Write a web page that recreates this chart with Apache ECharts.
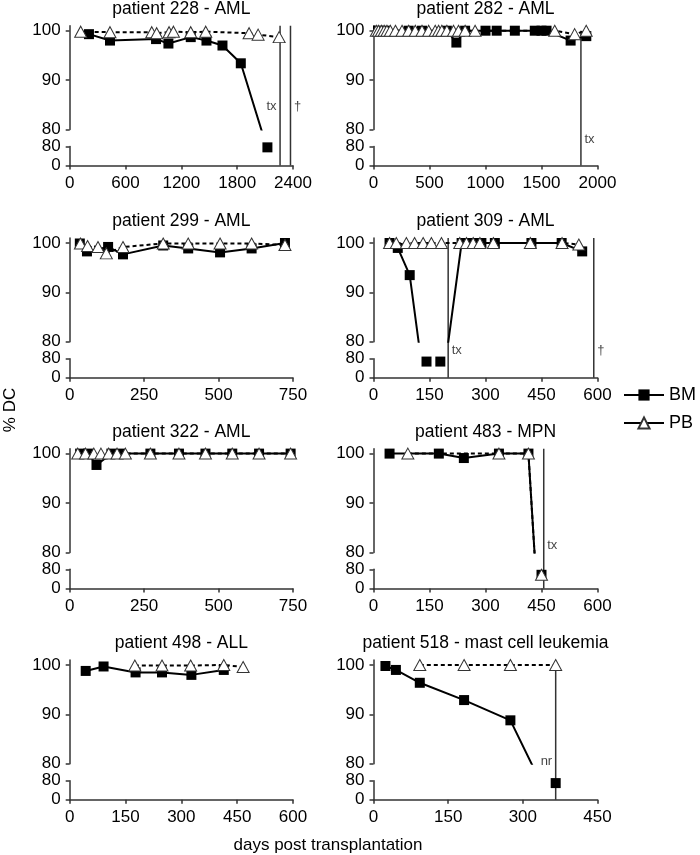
<!DOCTYPE html>
<html><head><meta charset="utf-8">
<script src="https://cdn.jsdelivr.net/npm/echarts@6/dist/echarts.min.js"></script>
<style>html,body{margin:0;padding:0;background:#fff}#c{width:700px;height:855px}</style>
</head><body><div id="c"></div>
<script>
// ---------------- DATA (days post transplantation, % donor chimerism) ----------------
const pt228_bm_days = [207, 433, 928, 1061, 1301, 1470, 1642, 1839, 2125];
const pt228_bm_pct  = [99.3, 98.0, 98.3, 97.4, 98.7, 98.0, 97.0, 93.4, 76];
const pt228_pb_days = [118, 433, 882, 935, 1068, 1115, 1301, 1462, 1928, 2025, 2251];
const pt228_pb_pct  = [99.8, 99.7, 99.7, 99.5, 99.7, 99.8, 99.7, 99.8, 99.5, 99.2, 98.7];
const pt228_event_days = [2261, 2373];
const pt228_event_text = ['tx', '†'];

const pt282_bm_days = [40, 110, 314, 433, 655, 740, 818, 1000, 1100, 1262, 1440, 1500, 1545, 1760, 1900];
const pt282_bm_pct  = [100, 100, 100, 100, 100, 97.6, 100, 100, 100, 100, 100, 100, 100, 98.0, 98.9];
const pt282_pb_days = [25, 45, 70, 95, 120, 150, 196, 255, 314, 373, 433, 492, 551, 581, 610, 655, 714, 759, 818, 907, 1618, 1796, 1899];
const pt282_pb_pct  = [100, 100, 100, 100, 100, 100, 100, 100, 100, 100, 100, 100, 100, 100, 100, 100, 100, 100, 100, 100, 100, 99.3, 100];
const pt282_event_days = [1852];
const pt282_event_text = ['tx'];

const pt299_bm_days = [34, 58, 129, 179, 314, 398, 505, 611, 723];
const pt299_bm_pct  = [99.9, 98.3, 99.2, 97.7, 99.5, 98.9, 98.1, 98.9, 100];
const pt299_pb_days = [36, 60, 95, 123, 179, 314, 398, 505, 611, 723];
const pt299_pb_pct  = [99.9, 99.4, 99.2, 97.9, 99.2, 99.9, 99.9, 99.9, 99.9, 99.6];
const pt299_event_days = [];
const pt299_event_text = [];

const pt309_bm_days = [43, 65, 97, 142, 179, 236, 253, 271, 289, 325, 423, 504, 559];
const pt309_bm_pct  = [100, 99.0, 93.5, 68, 68, 100, 100, 100, 100, 100, 100, 100, 98.3];
const pt309_pb_days = [43, 61, 88, 110, 133, 155, 182, 231, 249, 267, 285, 321, 420, 505, 550];
const pt309_pb_pct  = [100, 100, 100, 100, 100, 100, 100, 100, 100, 100, 100, 100, 100, 100, 99.7];
const pt309_event_days = [200, 590];
const pt309_event_text = ['tx', '†'];

const pt322_bm_days = [35, 62, 90, 140, 172, 271, 367, 456, 546, 636, 742];
const pt322_bm_pct  = [100, 100, 97.7, 100, 100, 100, 100, 100, 100, 100, 100];
const pt322_pb_days = [27, 53, 81, 105, 131, 159, 187, 271, 367, 456, 546, 636, 742];
const pt322_pb_pct  = [100, 100, 100, 100, 100, 100, 100, 100, 100, 100, 100, 100, 100];
const pt322_event_days = [];
const pt322_event_text = [];

const pt483_bm_days = [43, 175, 242, 336, 415, 450];
const pt483_bm_pct  = [100, 100, 99.1, 100, 100, 57];
const pt483_pb_days = [92, 336, 415, 450];
const pt483_pb_pct  = [100, 100, 100, 57];
const pt483_event_days = [456];
const pt483_event_text = ['tx'];

const pt498_bm_days = [43, 91, 177, 248, 327, 414];
const pt498_bm_pct  = [98.8, 99.7, 98.5, 98.5, 98.0, 99.0];
const pt498_pb_days = [175, 248, 325, 414, 466];
const pt498_pb_pct  = [99.9, 99.9, 99.9, 100, 99.6];
const pt498_event_days = [];
const pt498_event_text = [];

const pt518_bm_days = [24, 45, 93, 182, 275, 366];
const pt518_bm_pct  = [99.8, 99.0, 96.4, 92.9, 88.8, 70];
const pt518_pb_days = [93, 182, 275, 366];
const pt518_pb_pct  = [100, 100, 100, 100];
const pt518_event_days = [366];
const pt518_event_text = ['nr'];

const panelTitles = ['patient 228 - AML', 'patient 282 - AML', 'patient 299 - AML', 'patient 309 - AML',
                     'patient 322 - AML', 'patient 483 - MPN', 'patient 498 - ALL', 'patient 518 - mast cell leukemia'];
const xMaxes = [2400, 2000, 750, 600, 750, 600, 600, 450];
const xSteps = [600, 500, 250, 150, 250, 150, 150, 150];
const upperTicks = [80, 90, 100];
const lowerTicks = [0, 80];
const seriesNames = ['BM', 'PB'];

// ---------------- LAYOUT / STYLE ----------------
const FONT = "'Liberation Sans', Arial, Helvetica, sans-serif";
const PXU = 4.94;            // px per % in the upper (80-100) part
const UP_MAX = 101;
const GAP = 16.9, LOW_H = 19.1;
const COLS = [{left: 69.7, width: 223.3}, {left: 373.5, width: 224}];
const ROWS = [30.7, 243, 453.6, 665];   // pixel row of the 100 % tick
// event line/label placement: [side, label level (upper-scale units), line top]
const eventLayout = {
  0: [['left', 84.7, 101], ['right', 84.7, 101]],
  1: [['right', 77.9, 100]],
  3: [['right', 78.3, 101], ['right', 78.3, 101]],
  5: [['right', 81.4, 101]],
  7: [['left', 80.4, 100]]
};

const panels = [
  [pt228_bm_days, pt228_bm_pct, pt228_pb_days, pt228_pb_pct, pt228_event_days, pt228_event_text],
  [pt282_bm_days, pt282_bm_pct, pt282_pb_days, pt282_pb_pct, pt282_event_days, pt282_event_text],
  [pt299_bm_days, pt299_bm_pct, pt299_pb_days, pt299_pb_pct, pt299_event_days, pt299_event_text],
  [pt309_bm_days, pt309_bm_pct, pt309_pb_days, pt309_pb_pct, pt309_event_days, pt309_event_text],
  [pt322_bm_days, pt322_bm_pct, pt322_pb_days, pt322_pb_pct, pt322_event_days, pt322_event_text],
  [pt483_bm_days, pt483_bm_pct, pt483_pb_days, pt483_pb_pct, pt483_event_days, pt483_event_text],
  [pt498_bm_days, pt498_bm_pct, pt498_pb_days, pt498_pb_pct, pt498_event_days, pt498_event_text],
  [pt518_bm_days, pt518_bm_pct, pt518_pb_days, pt518_pb_pct, pt518_event_days, pt518_event_text]
];

const AX = {color: '#333', width: 1.5};
const LBL = {fontFamily: FONT, fontSize: 17, color: '#000', formatter: v => String(v)};
const BM_STYLE = {symbol: 'rect', symbolSize: 10, itemStyle: {color: '#000', opacity: 1}};
const PB_STYLE = {symbol: 'triangle', symbolSize: [12, 11], itemStyle: {color: '#fff', borderColor: '#333', borderWidth: 1, opacity: 1}};

const grid = [], xAxis = [], yAxis = [], series = [], graphic = [];

panels.forEach((p, i) => {
  const [bmD, bmV, pbD, pbV, evD, evT] = p;
  const col = COLS[i % 2], y100 = ROWS[Math.floor(i / 2)];
  const upTop = y100 - PXU * (UP_MAX - 100);
  const upH = PXU * (UP_MAX - 80);
  const lowTop = y100 + 20 * PXU + GAP;
  const lowBottom = lowTop + LOW_H;
  const g0 = grid.length;
  grid.push({left: col.left, width: col.width, top: upTop, height: upH, outerBoundsMode: 'none'});
  grid.push({left: col.left, width: col.width, top: lowTop, height: LOW_H, outerBoundsMode: 'none'});
  grid.push({left: col.left, width: col.width, top: upTop, height: lowBottom - upTop, outerBoundsMode: 'none'});

  xAxis.push({gridIndex: g0, type: 'value', min: 0, max: xMaxes[i], show: false});
  xAxis.push({gridIndex: g0 + 1, type: 'value', min: 0, max: xMaxes[i], interval: xSteps[i],
    axisLine: {show: true, onZero: false, lineStyle: AX},
    axisTick: {show: true, length: 4, lineStyle: AX},
    axisLabel: Object.assign({margin: 9}, LBL), splitLine: {show: false}});
  xAxis.push({gridIndex: g0 + 2, type: 'value', min: 0, max: xMaxes[i], show: false});

  yAxis.push({gridIndex: g0, type: 'value', min: 80, max: UP_MAX,
    axisLine: {show: true, lineStyle: AX},
    axisTick: {show: true, length: 4, lineStyle: AX, customValues: upperTicks},
    axisLabel: Object.assign({margin: 9, customValues: upperTicks}, LBL), splitLine: {show: false}});
  yAxis.push({gridIndex: g0 + 1, type: 'value', min: 0, max: 80, interval: 80,
    axisLine: {show: true, lineStyle: AX},
    axisTick: {show: true, length: 4, lineStyle: AX, customValues: lowerTicks},
    axisLabel: Object.assign({margin: 9, customValues: lowerTicks}, LBL), splitLine: {show: false}});
  const ovMin = UP_MAX - (lowBottom - upTop) / PXU;
  yAxis.push({gridIndex: g0 + 2, type: 'value', min: ovMin, max: UP_MAX, show: false});

  // event lines (overlay spanning both parts)
  evD.forEach((d, k) => {
    const lay = (eventLayout[i] || [])[k];
    series.push({type: 'line', name: 'event', xAxisIndex: g0 + 2, yAxisIndex: g0 + 2, z: 1, silent: true,
      symbol: 'none', lineStyle: {color: '#333', width: 1.5}, data: [[d, ovMin], [d, lay[2]]]});
    series.push({type: 'scatter', name: 'eventLabel', xAxisIndex: g0 + 2, yAxisIndex: g0 + 2, z: 1, silent: true,
      symbolSize: 1, itemStyle: {color: 'transparent'},
      label: {show: true, position: lay[0], distance: 3, formatter: evT[k], fontFamily: FONT, fontSize: 13, color: '#111'},
      data: [[d, lay[1]]]});
  });

  const toUpper = (D, V) => D.map((d, k) => V[k] < 80 ? {value: [d, V[k]], symbol: 'none'} : [d, V[k]]);
  const toLower = (D, V) => D.map((d, k) => [d, V[k]]).filter(pt => pt[1] < 80);

  series.push(Object.assign({type: 'line', name: seriesNames[0], xAxisIndex: g0, yAxisIndex: g0, z: 3, clip: true,
    showAllSymbol: true, lineStyle: {color: '#000', width: 2}, data: toUpper(bmD, bmV)}, BM_STYLE));
  series.push(Object.assign({type: 'line', name: seriesNames[1], xAxisIndex: g0, yAxisIndex: g0, z: 4, clip: true,
    showAllSymbol: true, lineStyle: {color: '#000', width: 2, type: [4, 3]}, data: toUpper(pbD, pbV)}, PB_STYLE));
  series.push(Object.assign({type: 'scatter', name: seriesNames[0], xAxisIndex: g0 + 1, yAxisIndex: g0 + 1, z: 3,
    data: toLower(bmD, bmV)}, BM_STYLE));
  series.push(Object.assign({type: 'scatter', name: seriesNames[1], xAxisIndex: g0 + 1, yAxisIndex: g0 + 1, z: 4,
    data: toLower(pbD, pbV)}, PB_STYLE));

  graphic.push({type: 'text', x: col.left + col.width / 2, y: y100 - 21.5,
    style: {text: panelTitles[i], textAlign: 'center', textVerticalAlign: 'middle', font: '17.5px ' + FONT, fill: '#000'}});
});

graphic.push({type: 'text', x: 10, y: 410, rotation: Math.PI / 2,
  style: {text: '% DC', textAlign: 'center', textVerticalAlign: 'middle', font: '17px ' + FONT, fill: '#000'}});
graphic.push({type: 'text', x: 328, y: 845,
  style: {text: 'days post transplantation', textAlign: 'center', textVerticalAlign: 'middle', font: '17px ' + FONT, fill: '#000'}});

const chart = echarts.init(document.getElementById('c'), null, {renderer: 'canvas'});
chart.setOption({
  animation: false,
  backgroundColor: '#fff',
  legend: {orient: 'vertical', left: 618, top: 381, padding: 5, itemWidth: 40, itemHeight: 14, itemGap: 10,
    selectedMode: false, textStyle: {fontFamily: FONT, fontSize: 18, color: '#000'},
    data: [{name: 'BM'}, {name: 'PB', lineStyle: {type: 'solid'}}]},
  grid, xAxis, yAxis, series, graphic
});
</script></body></html>
